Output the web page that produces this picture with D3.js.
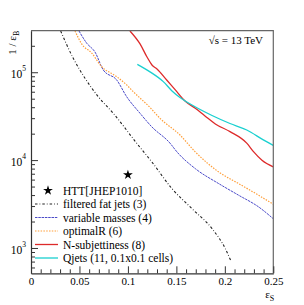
<!DOCTYPE html>
<html>
<head>
<meta charset="utf-8">
<script src="https://cdn.jsdelivr.net/npm/d3@7"></script>
<style>
  body { margin: 0; background: #fff; }
  svg text { font-family: "Liberation Serif", "Times New Roman", "DejaVu Serif", serif !important; fill: #000; }
</style>
</head>
<body>
<svg id="chart"></svg>
<script>
// values: [eps_S, 1/eps_B]
const filteredFatJets = [
	[0.0306, 2.95e5], [0.0436, 1.44e5], [0.0557, 8.55e4], [0.0694, 5.27e4],
	[0.0849, 3.41e4], [0.109, 1.56e4], [0.1248, 9.5e3], [0.1455, 4.73e3],
	[0.1661, 2.80e3], [0.1868, 1.66e3], [0.2005, 982], [0.2067, 694]
];
const variableMasses = [
	[0.0495, 2.95e5], [0.0575, 2.14e5], [0.066, 1.70e5], [0.0746, 1.06e5],
	[0.0884, 8.17e4], [0.0987, 5.27e4], [0.1125, 3.41e4], [0.1245, 2.40e4],
	[0.1434, 1.56e4], [0.1506, 1.24e4], [0.1695, 8.0e3], [0.1937, 5.40e3],
	[0.2143, 3.98e3], [0.2349, 2.93e3], [0.25, 2.15e3]
];
const optimalR = [
	[0.0454, 2.95e5], [0.0523, 2.10e5], [0.0629, 1.64e5], [0.0722, 1.18e5],
	[0.0884, 8.91e4], [0.0987, 7.17e4], [0.1055, 6.01e4], [0.1228, 3.97e4],
	[0.1331, 2.99e4], [0.1537, 1.93e4], [0.1695, 1.24e4], [0.1937, 7.33e3],
	[0.2143, 5.40e3], [0.2349, 3.98e3], [0.25, 3.14e3]
];
const nSubjettiness = [
	[0.1021, 2.95e5], [0.1125, 2.10e5], [0.1197, 1.49e5], [0.1248, 1.21e5],
	[0.13, 1.09e5], [0.14, 8.17e4], [0.1489, 6.29e4], [0.1589, 4.71e4],
	[0.1695, 3.89e4], [0.1795, 3.18e4], [0.1902, 2.58e4], [0.2053, 2.11e4],
	[0.2226, 1.56e4], [0.2298, 1.24e4], [0.2383, 9.96e3], [0.25, 8.36e3]
];
const qjets = [
	[0.1097, 1.23e5], [0.1228, 1.01e5], [0.1365, 7.82e4], [0.1455, 6.12e4],
	[0.1537, 5.16e4], [0.1661, 4.24e4], [0.1868, 3.22e4], [0.2053, 2.61e4],
	[0.2226, 2.20e4], [0.2397, 1.70e4], [0.25, 1.47e4]
];
const httPoint = [0.1, 6.8e3];

const legendLabels = [
	"HTT[JHEP1010]", "filtered fat jets (3)", "variable masses (4)",
	"optimalR (6)", "N-subjettiness (8)", "Qjets (11, 0.1x0.1 cells)"
];
const xMajorTicks = [0, 0.05, 0.1, 0.15, 0.2, 0.25];
const xTickLabels = ["0", "0.05", "0.1", "0.15", "0.2", "0.25"];
const yMajorTicks = [1e3, 1e4, 1e5];
const yTickExponents = ["3", "4", "5"];

const SERIF = '"Liberation Serif", "Times New Roman", "DejaVu Serif", serif';
const W = 304, H = 305;
var margin = { top: 30.7, right: 30.7, bottom: 31.7, left: 31 },
	width = W - margin.left - margin.right,
	height = H - margin.top - margin.bottom;

const svg = d3.select("#chart").attr("width", W).attr("height", H);
const g = svg.append("g").attr("transform", `translate(${margin.left},${margin.top})`);

const x = d3.scaleLinear().domain([0, 0.25]).range([0, width]);
const y = d3.scaleLog().domain([515, 2.97e5]).range([height, 0]);

g.append("clipPath").attr("id", "clip")
	.append("rect").attr("width", width).attr("height", height);

// series styles
const series = [
	{ data: filteredFatJets, color: "#222", width: 1.1, dash: "2.5,2,0.8,2" },
	{ data: variableMasses, color: "#4a4ac8", width: 1, dash: "2.5,0.8" },
	{ data: optimalR, color: "#ff9f3a", width: 1.2, dash: "1.5,1.3" },
	{ data: nSubjettiness, color: "#dd2a2a", width: 1.3, dash: null },
	{ data: qjets, color: "#1ad0d0", width: 1.3, dash: null }
];

const line = d3.line()
	.x(d => x(d[0]))
	.y(d => y(d[1]))
	.curve(d3.curveMonotoneX);

g.append("g").attr("clip-path", "url(#clip)")
	.selectAll("path")
	.data(series)
	.join("path")
	.attr("d", d => line(d.data))
	.attr("fill", "none")
	.attr("stroke", d => d.color)
	.attr("stroke-width", d => d.width)
	.attr("stroke-dasharray", d => d.dash);

// HTT star
const star = d3.symbol().type(d3.symbolStar).size(30);
g.append("path")
	.attr("d", star())
	.attr("transform", `translate(${x(httPoint[0])},${y(httPoint[1])})`)
	.attr("fill", "#000");

// frame (top/right)
g.append("path")
	.attr("d", `M0,0H${width}V${height}`)
	.attr("fill", "none").attr("stroke", "#666").attr("stroke-width", 1.2);

// x axis
const xMinor = d3.range(0, 0.2501, 0.01).filter(v => Math.abs(v * 20 - Math.round(v * 20)) > 1e-6);
g.append("g")
	.attr("transform", `translate(0,${height})`)
	.call(d3.axisBottom(x).tickValues(xMinor).tickSize(-4).tickFormat(""))
	.call(a => a.select(".domain").remove())
	.selectAll("line").attr("stroke", "#333");
const xAx = g.append("g")
	.attr("transform", `translate(0,${height})`)
	.call(d3.axisBottom(x).tickValues(xMajorTicks).tickSizeInner(-7).tickSizeOuter(0).tickPadding(4)
		.tickFormat((d, i) => xTickLabels[i]));
xAx.select(".domain").attr("stroke", "#333").attr("stroke-width", 1.2);
xAx.selectAll("line").attr("stroke", "#333");
xAx.selectAll("text").attr("font-size", 11).style("font-family", SERIF).attr("fill", "#000");

// y axis
const yMinor = [];
[100, 1000, 10000, 100000].forEach(b => {
	for (let k = 2; k <= 9; k++) {
		const v = b * k;
		if (v >= 515 && v <= 2.97e5) yMinor.push(v);
	}
});
g.append("g")
	.call(d3.axisLeft(y).tickValues(yMinor).tickSize(-4).tickFormat(""))
	.call(a => a.select(".domain").remove())
	.selectAll("line").attr("stroke", "#333");
const yAx = g.append("g")
	.call(d3.axisLeft(y).tickValues(yMajorTicks).tickSizeInner(-7).tickSizeOuter(0).tickPadding(5)
		.tickFormat(""));
yAx.select(".domain").attr("stroke", "#333").attr("stroke-width", 1.2);
yAx.selectAll("line").attr("stroke", "#333");
yAx.selectAll(".tick text").each(function (d, i) {
	const t = d3.select(this)
		.attr("font-size", 11.5).style("font-family", SERIF).attr("fill", "#000")
		.attr("x", -5).attr("dy", "0.45em");
	t.append("tspan").text("10");
	t.append("tspan").attr("font-size", 7.5).attr("dy", "-0.95em").text(yTickExponents[i]);
});

// axis titles
svg.append("text")
	.attr("transform", `translate(16,${margin.top}) rotate(-90)`)
	.attr("text-anchor", "end")
	.attr("font-size", 11)
	.style("font-family", SERIF)
	.call(t => {
		t.append("tspan").text("1 / ε");
		t.append("tspan").attr("font-size", 8).attr("dy", 3).text("B");
	});
svg.append("text")
	.attr("x", margin.left + width + 1)
	.attr("y", 298)
	.attr("text-anchor", "end")
	.attr("font-size", 11)
	.style("font-family", SERIF)
	.call(t => {
		t.append("tspan").text("ε");
		t.append("tspan").attr("font-size", 8).attr("dy", 3).text("S");
	});

// energy label
svg.append("text")
	.attr("x", 263).attr("y", 44)
	.attr("text-anchor", "end")
	.attr("font-size", 11)
	.style("font-family", SERIF)
	.text("√s = 13 TeV");

// legend
const legY0 = 190.5, legStep = 13.5;
const leg = svg.append("g");
leg.append("path")
	.attr("d", star())
	.attr("transform", `translate(48,${legY0})`)
	.attr("fill", "#000");
series.forEach((s, i) => {
	leg.append("line")
		.attr("x1", 35).attr("x2", 58)
		.attr("y1", legY0 + (i + 1) * legStep).attr("y2", legY0 + (i + 1) * legStep)
		.attr("stroke", s.color).attr("stroke-width", s.width)
		.attr("stroke-dasharray", s.dash);
});
leg.selectAll("text.leg")
	.data(legendLabels)
	.join("text")
	.attr("class", "leg")
	.attr("x", 63)
	.attr("y", (d, i) => legY0 + i * legStep)
	.attr("dy", "0.35em")
	.attr("font-size", 11.5)
	.style("font-family", SERIF)
	.text(d => d);
</script>
</body>
</html>
